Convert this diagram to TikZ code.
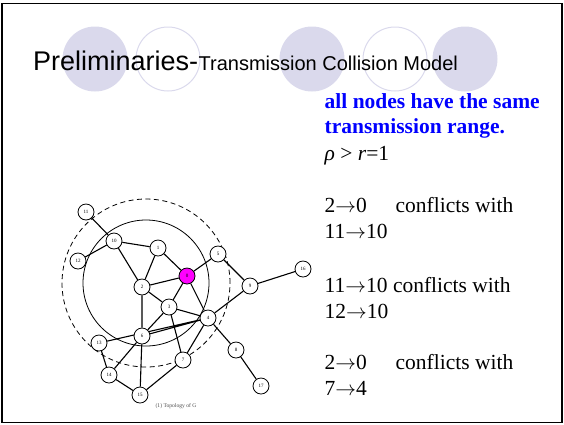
\documentclass[tikz,border=0pt]{standalone}
\usepackage{fontspec}
\setmainfont{Liberation Serif}
\newfontfamily\arialfamily{Liberation Sans}
\usepackage{tikz}
\usetikzlibrary{positioning,backgrounds}
\definecolor{lavender}{RGB}{218,217,236}
\definecolor{pureblue}{RGB}{0,0,255}
\definecolor{hot}{RGB}{255,0,255}

\begin{document}
\begin{tikzpicture}[x=1pt,y=-1pt,
  vertex/.style={draw,circle,fill=white,line width=0.8pt,minimum size=16pt,
    inner sep=0pt,font=\fontsize{5}{6}\selectfont},
  link/.style={line width=1.1pt},
  reach/.style={line width=0.8pt},
  body/.style={anchor=base west,inner sep=0pt,align=left,
    font=\fontsize{21.5}{26}\selectfont}]
  \useasboundingbox (0,0) rectangle (564,424);

  % slide frame
  \draw[line width=1.5pt] (2,3.7) rectangle (561.8,422.7);

  % title decoration
  \fill[lavender] (95,59) circle (32.5pt);
  \draw[lavender,line width=1pt] (168,59) circle (32pt);
  \fill[lavender] (312,59) circle (32.5pt);
  \draw[lavender,line width=1pt] (395,59) circle (32pt);
  \fill[lavender] (465,59) circle (32.5pt);

  % title
  \node[anchor=base west,inner sep=0pt,font=\arialfamily\fontsize{27}{32}\selectfont]
    (title) at (33,70) {Preliminaries-};
  \node[anchor=base west,inner sep=0pt,font=\arialfamily\fontsize{20}{24}\selectfont]
    (subtitle) at (title.base east) {Transmission Collision Model};

  % vertices
  \node[vertex,fill=hot] (n0) at (187,276) {0};
  \node[vertex] (n1) at (158,248) {1};
  \node[vertex] (n2) at (142,287) {2};
  \node[vertex] (n3) at (169,307) {3};
  \node[vertex] (n4) at (208,318) {4};
  \node[vertex] (n5) at (218,254) {5};
  \node[vertex] (n6) at (142,336) {6};
  \node[vertex] (n7) at (183,360) {7};
  \node[vertex] (n8) at (236,350) {8};
  \node[vertex] (n9) at (250,286) {9};
  \node[vertex] (n10) at (114,241) {10};
  \node[vertex] (n11) at (86,212) {11};
  \node[vertex] (n12) at (78,261) {12};
  \node[vertex] (n13) at (99,343) {13};
  \node[vertex] (n14) at (109,375) {14};
  \node[vertex] (n15) at (140,395) {15};
  \node[vertex] (n16) at (303,269) {16};
  \node[vertex] (n17) at (261,386) {17};

  % ranges and links, behind the vertices
  \begin{scope}[on background layer]
    \coordinate (ctr) at (146,283);
    \draw[reach] (ctr) circle (63pt);
    \draw[reach,dash pattern=on 5pt off 3.5pt] (ctr) circle (84pt);

    \draw[link] (n11) -- (n10) (n12) -- (n10) (n10) -- (n1) (n10) -- (n2);
    \draw[link] (n1) -- (n2) (n1) -- (n0) (n2) -- (n0) (n2) -- (n3) (n2) -- (n6);
    \draw[link] (n0) -- (n3) (n0) -- (n4) (n0) -- (n5);
    \draw[link] (n5) -- (n9) (n9) -- (n16) (n9) -- (n4);
    \draw[link] (n3) -- (n4) (n3) -- (n6) (n3) -- (n7);
    \draw[link] (n6) -- (n4) (n13) -- (n4) (n13) -- (n14);
    \draw[link] (n6) -- (n14) (n6) -- (n15) (n14) -- (n15);
    \draw[link] (n15) -- (n7) (n7) -- (n4) (n4) -- (n8) (n8) -- (n17);
  \end{scope}

  % caption
  \node[font=\fontsize{5.6}{7}\selectfont,text=black!70] (caption) at (176,406)
    {(1) Topology of G};

  % right-hand text (base = last line)
  \node[body,text=pureblue,font=\bfseries\fontsize{21.5}{25}\selectfont]
    (claim) at (324.5,133) {all nodes have the same\\transmission range.};
  \node[body] (rho) at (324.5,160) {\textit{ρ} > \textit{r}=1};
  \node[body] (pairA) at (324.5,238)
    {\makebox[71pt][l]{2$\rightarrow$0}conflicts with\\11$\rightarrow$10};
  \node[body] (pairB) at (324.5,318)
    {11$\rightarrow$10 conflicts with\\12$\rightarrow$10};
  \node[body] (pairC) at (324.5,395)
    {\makebox[71pt][l]{2$\rightarrow$0}conflicts with\\7$\rightarrow$4};
\end{tikzpicture}
\end{document}
